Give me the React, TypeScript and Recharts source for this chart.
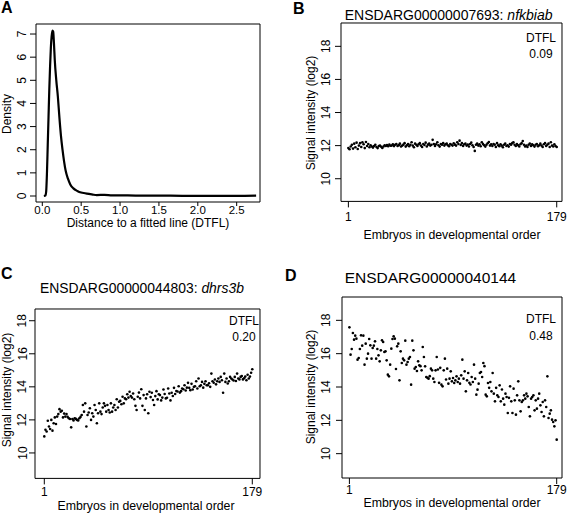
import React from "react";
import {
  LineChart,
  Line,
  ScatterChart,
  Scatter,
  XAxis,
  YAxis,
  ReferenceArea,
} from "recharts";

const FONT = "'Liberation Sans', Arial, Helvetica, sans-serif";

// Panel A: density of DTFL values
const dtflX = [
  0.02, 0.04, 0.05, 0.06, 0.07, 0.08, 0.09, 0.1, 0.11, 0.12, 0.13, 0.14, 0.15, 0.16, 0.18, 0.2,
  0.22, 0.24, 0.26, 0.28, 0.3, 0.33, 0.36, 0.4, 0.45, 0.5, 0.55, 0.6, 0.65, 0.7, 0.8, 0.9, 1.0,
  1.2, 1.5, 1.8, 2.0, 2.3, 2.5, 2.75,
];
const dtflDensity = [
  0, 0.02, 0.2, 1.0, 2.2, 3.4, 4.6, 5.6, 6.4, 6.9, 7.15, 7.1, 6.6, 5.9, 5.0, 4.3,
  3.4, 2.6, 2.0, 1.5, 1.1, 0.75, 0.5, 0.33, 0.22, 0.15, 0.12, 0.09, 0.06, 0.04, 0.05, 0.03, 0.03,
  0.02, 0.02, 0.01, 0.01, 0.01, 0.01, 0.02,
];
const densityXTicks = [0, 0.5, 1.0, 1.5, 2.0, 2.5];
const densityYTicks = [0, 1, 2, 3, 4, 5, 6, 7];

// Panels B-D: signal intensity (log2) per embryo, 179 embryos
const embryoTicks = [1, 179];
const intensityTicks = [10, 12, 14, 16, 18];

const nfkbiab = [
  11.85, 11.78, 11.95, 12.05, 11.82, 12.12, 11.9, 12.18, 11.8, 12.0,
  12.15, 11.92, 12.2, 12.08, 11.85, 12.22, 11.98, 12.1, 11.9, 12.02,
  11.95, 11.88, 11.98, 12.05, 11.92, 11.85, 11.97, 12.0, 11.93, 11.86,
  11.95, 12.02, 11.98, 12.04, 11.96, 12.06, 11.99, 12.0, 12.08, 11.97,
  12.05, 12.1, 11.98, 12.03, 12.12, 11.95, 12.0, 12.06, 12.15, 11.94,
  12.02, 12.1, 11.96, 12.05, 12.2, 12.0, 11.9, 12.12, 12.05, 11.98,
  12.08, 12.15, 12.0, 11.92, 12.1, 12.04, 12.18, 11.95, 12.06, 12.12,
  12.0, 12.05, 12.35, 12.1, 11.98, 12.08, 12.2, 12.02, 11.94, 12.1,
  12.05, 12.15, 12.0, 12.08, 12.12, 12.02, 11.96, 12.1, 12.05, 12.0,
  12.14, 12.06, 12.0, 12.2, 12.1, 12.3, 12.04, 12.15, 11.98, 12.08,
  12.12, 12.0, 12.06, 11.95, 12.1, 12.18, 12.02, 11.92, 11.68, 12.05,
  12.12, 12.0, 12.08, 11.96, 12.2, 12.1, 12.02, 11.94, 12.05, 12.14,
  12.22, 12.0, 12.08, 11.98, 12.1, 12.05, 11.92, 12.15, 12.02, 11.96,
  12.08, 12.0, 11.9, 12.05, 12.12, 11.98, 12.02, 11.94, 12.1, 12.06,
  12.15, 12.2, 12.05, 11.98, 12.1, 12.02, 11.95, 12.08, 12.15, 12.28,
  12.05, 11.95, 12.0, 11.92, 12.05, 12.12, 11.98, 12.08, 12.02, 11.94,
  12.05, 12.1, 11.96, 12.02, 12.12, 12.0, 11.92, 12.08, 12.15, 11.98,
  12.05, 12.12, 11.92, 12.2, 12.0, 11.95, 12.08, 11.98, 11.92,
];

const dhrs3b = [
  11.0, 11.4, 11.3, 11.95, 11.6, 11.45, 12.0, 11.35, 11.8, 12.15,
  11.75, 12.2, 12.35, 12.65, 12.5, 12.55, 12.15, 12.38, 12.2, 12.35,
  12.18, 12.1, 12.05, 11.55, 12.05, 11.97, 12.1, 12.06, 12.0, 11.97,
  12.1, 12.18, 12.3, 12.9, 12.5, 13.0, 11.6, 12.3, 12.45, 12.7,
  12.0, 12.4, 12.2, 12.9, 12.6, 11.8, 12.4, 13.0, 12.5, 12.35,
  12.75, 13.0, 12.85, 12.5, 12.9, 12.6, 12.45, 13.0, 12.5, 12.75,
  12.9, 12.6, 13.25, 12.75, 13.1, 13.15, 12.95, 13.4, 13.0, 13.3,
  13.25, 13.55, 13.35, 13.7, 13.45, 13.35, 13.6, 13.25, 12.85, 12.6,
  13.4, 13.65, 13.3, 13.85, 12.85, 13.5, 12.6, 13.3, 13.55, 12.4,
  13.7, 13.38, 13.64, 13.2, 12.9, 13.44, 13.74, 13.24, 13.55, 13.5,
  13.18, 13.35, 13.84, 13.57, 13.3, 13.34, 13.9, 13.6, 13.18, 13.64,
  13.45, 13.94, 13.57, 13.75, 13.72, 14.04, 13.65, 13.74, 13.9, 13.85,
  14.1, 13.78, 13.95, 14.24, 13.94, 13.8, 14.18, 13.84, 14.0, 14.04,
  14.34, 13.9, 14.5, 14.04, 14.1, 14.3, 13.95, 14.18, 14.34, 14.1,
  14.1, 14.22, 14.0, 14.8, 14.34, 14.25, 14.44, 14.15, 14.34, 14.5,
  14.3, 14.6, 14.4, 13.64, 14.8, 14.3, 14.5, 14.2, 14.34, 14.6,
  14.5, 14.44, 14.38, 14.6, 14.35, 14.8, 14.5, 14.45, 14.6, 14.65,
  14.45, 14.52, 14.62, 14.4, 14.73, 14.5, 14.62, 14.85, 15.06,
];

const gene40144 = [
  17.58, 15.94, 16.28, 17.24, 16.84, 17.08, 16.9, 15.64, 15.74, 16.28,
  17.1, 16.48, 17.08, 15.34, 16.6, 15.7, 16.0, 16.88, 16.5, 15.7,
  16.34, 16.48, 16.74, 15.7, 16.28, 15.9, 15.54, 16.2, 16.8, 16.7,
  16.1, 16.14, 15.6, 14.74, 14.64, 15.34, 16.3, 16.88, 17.04, 16.9,
  15.08, 16.44, 16.6, 14.4, 16.14, 15.44, 15.7, 15.6, 16.78, 15.34,
  15.5, 15.7, 15.8, 14.14, 16.78, 16.2, 15.1, 15.2, 14.96, 15.54,
  15.3, 15.25, 15.0, 16.4, 15.8, 15.24, 14.6, 14.55, 14.5, 14.65,
  15.1, 15.0, 14.5, 14.3, 15.0, 15.8, 15.05, 14.25, 15.15, 14.14,
  14.04, 15.0, 15.7, 14.45, 15.1, 14.2, 14.5, 14.94, 14.34, 14.54,
  14.24, 14.4, 14.64, 14.3, 14.5, 14.2, 14.7, 15.64, 14.5, 14.94,
  13.74, 14.4, 14.84, 14.25, 14.15, 14.6, 14.3, 15.34, 14.5, 13.54,
  13.84, 14.2, 14.84, 14.9, 14.6, 15.44, 15.25, 13.54, 13.44, 14.24,
  13.95, 14.3, 13.74, 14.84, 13.6, 13.14, 13.95, 13.5, 13.4, 14.1,
  13.14, 13.85, 13.3, 12.94, 13.6, 13.4, 12.44, 13.35, 14.04, 13.14,
  12.44, 13.9, 13.2, 12.34, 13.5, 14.34, 13.2, 12.54, 13.1, 13.2,
  13.5, 13.3, 13.6, 13.44, 12.8, 12.24, 13.3, 13.4, 13.5, 12.6,
  13.2, 12.7, 13.3, 13.6, 12.9, 12.5, 13.1, 12.24, 13.2, 12.8,
  14.64, 12.14, 12.4, 12.6, 12.04, 11.9, 11.64, 12.0, 10.84,
];

const RotTick = (props: any) => {
  const { y, payload, cx } = props;
  return (
    <text
      x={cx}
      y={y}
      transform={`rotate(-90 ${cx} ${y})`}
      textAnchor="middle"
      dominantBaseline="central"
      fontSize={12}
      fontFamily={FONT}
      fill="#000"
    >
      {payload.value}
    </text>
  );
};

const Dot = (props: any) => <circle cx={props.cx} cy={props.cy} r={1.3} fill="#000" />;

const Txt = ({ x, y, size = 12, bold, center, children }: any) => (
  <div
    style={{
      position: "absolute",
      left: x,
      top: y,
      fontFamily: FONT,
      fontSize: size,
      lineHeight: `${size}px`,
      fontWeight: bold ? "bold" : "normal",
      whiteSpace: "nowrap",
      transform: center ? "translateX(-50%)" : undefined,
      color: "#000",
    }}
  >
    {children}
  </div>
);

const VTxt = ({ cx, cy, children }: any) => (
  <div
    style={{
      position: "absolute",
      left: cx,
      top: cy,
      fontFamily: FONT,
      fontSize: 12,
      lineHeight: "12px",
      whiteSpace: "nowrap",
      transform: "translate(-50%, -50%) rotate(-90deg)",
      color: "#000",
    }}
  >
    {children}
  </div>
);

const ML = 40;
const MT = 10;
const MR = 10;
const MB = 30;

function ScatterPanel({ values, box, xDomain, yDomain, labelOffset, tickMargin }: any) {
  const w = box.right - box.left;
  const h = box.bottom - box.top;
  const data = values.map((v: number, k: number) => ({ i: k + 1, v }));
  return (
    <div style={{ position: "absolute", left: box.left - ML, top: box.top - MT }}>
      <ScatterChart
        width={w + ML + MR}
        height={h + MT + MB}
        margin={{ top: MT, right: MR, bottom: 0, left: 0 }}
      >
        <XAxis
          type="number"
          dataKey="i"
          domain={xDomain}
          ticks={embryoTicks}
          interval={0}
          allowDataOverflow
          axisLine={false}
          tickSize={6}
          tickMargin={tickMargin}
          tickLine={{ stroke: "#000" }}
          tick={{ fill: "#000", fontSize: 12, fontFamily: FONT }}
          height={MB}
        />
        <YAxis
          type="number"
          dataKey="v"
          domain={yDomain}
          ticks={intensityTicks}
          interval={0}
          allowDataOverflow
          axisLine={false}
          tickSize={6}
          tickLine={{ stroke: "#000" }}
          width={ML}
          tick={(p: any) => <RotTick {...p} cx={ML - labelOffset} />}
        />
        <ReferenceArea
          x1={xDomain[0]}
          x2={xDomain[1]}
          y1={yDomain[0]}
          y2={yDomain[1]}
          fill="none"
          stroke="#000"
          strokeWidth={1}
          ifOverflow="visible"
        />
        <Scatter data={data} shape={Dot} isAnimationActive={false} />
      </ScatterChart>
    </div>
  );
}

function DensityPanel() {
  const box = { left: 36, top: 24, right: 260, bottom: 202 };
  const xDomain = [-0.081, 2.8];
  const yDomain = [-0.259, 7.433];
  const data = dtflX.map((x, k) => ({ x, d: dtflDensity[k] }));
  const w = box.right - box.left;
  const h = box.bottom - box.top;
  return (
    <div style={{ position: "absolute", left: box.left - ML, top: box.top - MT }}>
      <LineChart
        width={w + ML + MR}
        height={h + MT + MB}
        data={data}
        margin={{ top: MT, right: MR, bottom: 0, left: 0 }}
      >
        <XAxis
          type="number"
          dataKey="x"
          domain={xDomain}
          ticks={densityXTicks}
          interval={0}
          allowDataOverflow
          axisLine={false}
          tickSize={4}
          tickMargin={0}
          tickFormatter={(v: number) => v.toFixed(1)}
          tickLine={{ stroke: "#000" }}
          tick={{ fill: "#000", fontSize: 11.5, fontFamily: FONT }}
          height={MB}
        />
        <YAxis
          type="number"
          domain={yDomain}
          ticks={densityYTicks}
          interval={0}
          allowDataOverflow
          axisLine={false}
          tickSize={6}
          tickLine={{ stroke: "#000" }}
          width={ML}
          tick={(p: any) => <RotTick {...p} cx={ML - 13.5} />}
        />
        <ReferenceArea
          x1={xDomain[0]}
          x2={xDomain[1]}
          y1={yDomain[0]}
          y2={yDomain[1]}
          fill="none"
          stroke="#000"
          strokeWidth={1}
          ifOverflow="visible"
        />
        <Line
          type="monotone"
          dataKey="d"
          stroke="#000"
          strokeWidth={2.2}
          dot={false}
          isAnimationActive={false}
        />
      </LineChart>
    </div>
  );
}

export default function App() {
  return (
    <div
      style={{
        position: "absolute",
        left: 0,
        top: 0,
        width: 567,
        height: 514,
        background: "#fff",
        overflow: "hidden",
      }}
    >
      {/* A */}
      <DensityPanel />
      <Txt x={1} y={0} size={16} bold>A</Txt>
      <Txt x={148} y={216.5} center>Distance to a fitted line (DTFL)</Txt>
      <VTxt cx={7} cy={114}>Density</VTxt>

      {/* B */}
      <ScatterPanel
        values={nfkbiab}
        box={{ left: 341.3, top: 23.3, right: 562.3, bottom: 201.7 }}
        xDomain={[-5.3, 183.5]}
        yDomain={[8.63, 19.41]}
        labelOffset={15}
        tickMargin={5.5}
      />
      <Txt x={293} y={1} size={16} bold>B</Txt>
      <Txt x={344.7} y={7.5} size={14}>
        ENSDARG00000007693: <i>nfkbiab</i>
      </Txt>
      <Txt x={452} y={229.3} size={12.3} center>Embryos in developmental order</Txt>
      <VTxt cx={311} cy={113}>Signal intensity (log2)</VTxt>
      <Txt x={541} y={31.7} center>DTFL</Txt>
      <Txt x={541} y={47.7} center>0.09</Txt>

      {/* C */}
      <ScatterPanel
        values={dhrs3b}
        box={{ left: 35, top: 309.3, right: 260, bottom: 478.7 }}
        xDomain={[-6.96, 185.6]}
        yDomain={[8.46, 18.71]}
        labelOffset={12.5}
        tickMargin={2.6}
      />
      <Txt x={1} y={266} size={16} bold>C</Txt>
      <Txt x={40} y={281.5} size={13.9}>
        ENSDARG00000044803: <i>dhrs3b</i>
      </Txt>
      <Txt x={146} y={499.8} size={12.3} center>Embryos in developmental order</Txt>
      <VTxt cx={7} cy={390}>Signal intensity (log2)</VTxt>
      <Txt x={244} y={315} center>DTFL</Txt>
      <Txt x={244} y={331} center>0.20</Txt>

      {/* D */}
      <ScatterPanel
        values={gene40144}
        box={{ left: 342.3, top: 296.7, right: 562.3, bottom: 477.7 }}
        xDomain={[-5.35, 183.55]}
        yDomain={[8.54, 19.4]}
        labelOffset={16}
        tickMargin={1.3}
      />
      <Txt x={285} y={268} size={16} bold>D</Txt>
      <Txt x={344.7} y={269.5} size={15.5}>ENSDARG00000040144</Txt>
      <Txt x={452} y={496.5} size={12.3} center>Embryos in developmental order</Txt>
      <VTxt cx={311} cy={387}>Signal intensity (log2)</VTxt>
      <Txt x={541} y={313.4} center>DTFL</Txt>
      <Txt x={541} y={330} center>0.48</Txt>
    </div>
  );
}
